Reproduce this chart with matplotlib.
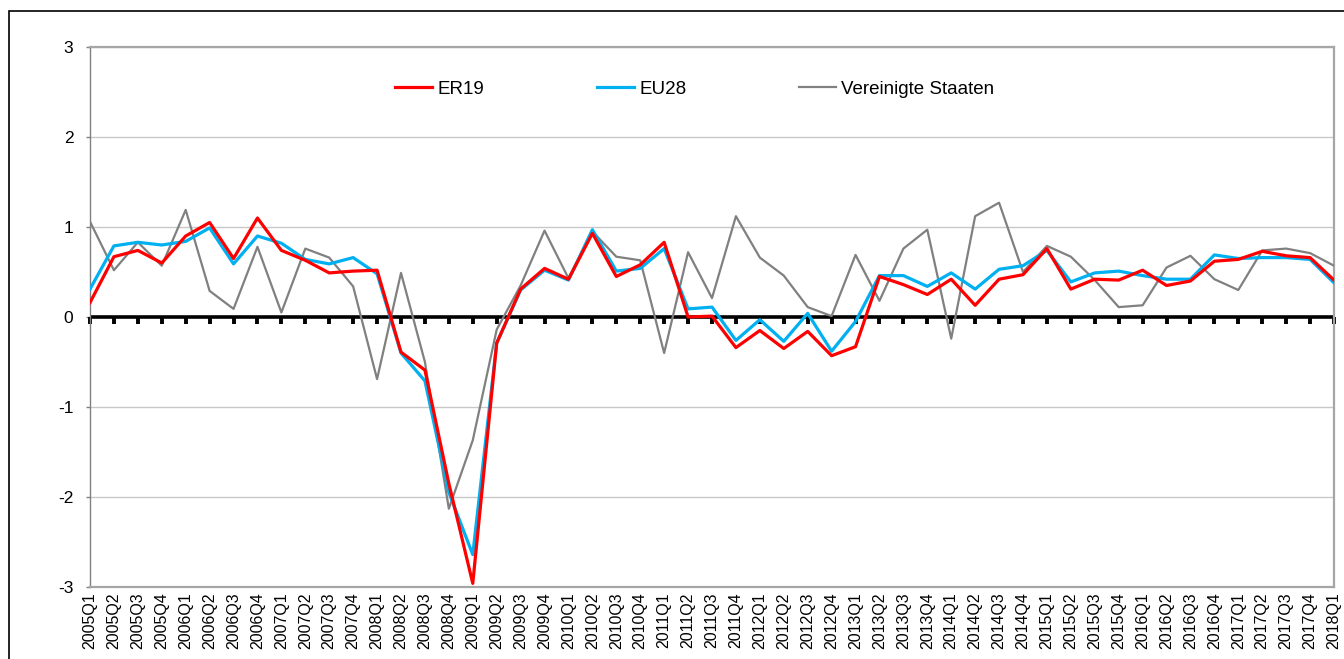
import matplotlib
matplotlib.use("Agg")
import matplotlib.pyplot as plt
from matplotlib.patches import Rectangle
from matplotlib.markers import TICKDOWN
import numpy as np

plt.rcParams['font.family'] = ['Liberation Sans', 'DejaVu Sans']

quarters = [f"{y}Q{q}" for y in range(2005, 2019) for q in range(1, 5)][:53]

er19 = [0.16, 0.67, 0.74, 0.60, 0.90, 1.05, 0.65, 1.10, 0.74, 0.63, 0.49, 0.51, 0.52,
        -0.39, -0.59, -1.85, -2.96, -0.29, 0.31, 0.54, 0.42, 0.93, 0.45, 0.58, 0.83,
        0.00, 0.01, -0.34, -0.15, -0.35, -0.16, -0.43, -0.33, 0.45, 0.36, 0.25, 0.42,
        0.13, 0.42, 0.47, 0.76, 0.31, 0.42, 0.41, 0.52, 0.35, 0.40, 0.62, 0.64, 0.73,
        0.68, 0.66, 0.41]

eu28 = [0.31, 0.79, 0.83, 0.80, 0.84, 0.99, 0.59, 0.90, 0.82, 0.64, 0.59, 0.66, 0.48,
        -0.40, -0.71, -1.95, -2.64, -0.29, 0.30, 0.52, 0.41, 0.97, 0.51, 0.54, 0.76,
        0.09, 0.11, -0.26, -0.03, -0.27, 0.04, -0.38, -0.05, 0.46, 0.46, 0.34, 0.49,
        0.31, 0.53, 0.57, 0.74, 0.39, 0.49, 0.51, 0.46, 0.42, 0.42, 0.69, 0.65, 0.66,
        0.66, 0.64, 0.38]

usa = [1.06, 0.52, 0.83, 0.57, 1.19, 0.29, 0.09, 0.78, 0.05, 0.76, 0.66, 0.34, -0.69,
       0.49, -0.50, -2.13, -1.37, -0.14, 0.35, 0.96, 0.43, 0.95, 0.67, 0.63, -0.40,
       0.72, 0.21, 1.12, 0.66, 0.46, 0.11, 0.01, 0.69, 0.18, 0.76, 0.97, -0.24,
       1.12, 1.27, 0.50, 0.79, 0.67, 0.41, 0.11, 0.13, 0.55, 0.68, 0.42, 0.30, 0.74,
       0.76, 0.71, 0.57]

series_names = ["ER19", "EU28", "Vereinigte Staaten"]
yticks = [-3, -2, -1, 0, 1, 2, 3]

W, H = 1344, 659
fig = plt.figure(figsize=(W / 100, H / 100), dpi=100)
ax = fig.add_axes([90 / W, 1 - 587 / H, (1334 - 90) / W, (587 - 47) / H])

x = np.arange(len(quarters))

# grid
for yv in yticks:
    if yv != 0:
        ax.axhline(yv, color='#C8C8C8', lw=1.0, zorder=1)

# zero axis with tick marks
ax.axhline(0, color='black', lw=2.6, zorder=2)
ax.plot(x, np.zeros(len(x)), linestyle='none', marker=TICKDOWN, markersize=5,
        markeredgewidth=2.8, color='black', zorder=2, clip_on=False)

ax.plot(x, usa, color='#808080', lw=1.6, label=series_names[2], zorder=3)
ax.plot(x, eu28, color='#00B0F0', lw=2.3, label=series_names[1], zorder=4)
ax.plot(x, er19, color='#FF0000', lw=2.3, label=series_names[0], zorder=4)

ax.set_xlim(0, len(quarters) - 1)
ax.set_ylim(-3, 3)
ax.set_yticks(yticks)
ax.set_yticklabels([str(v) for v in yticks], fontsize=12.5)
ax.tick_params(axis='y', direction='out', length=3, color='#808080', width=1, pad=9)

ax.set_xticks(x)
ax.set_xticklabels(quarters, rotation=90, fontsize=11.5)
ax.tick_params(axis='x', length=0, pad=4)

for s in ['top', 'right', 'bottom']:
    ax.spines[s].set_color('#A6A6A6')
    ax.spines[s].set_linewidth(1.6)
ax.spines['left'].set_color('#808080')
ax.spines['left'].set_linewidth(1.0)

handles, labels = ax.get_legend_handles_labels()
order = [2, 1, 0]
leg = ax.legend([handles[i] for i in order], [labels[i] for i in order],
                loc='center', bbox_to_anchor=(0.486, 0.922), ncol=3, frameon=False,
                fontsize=13.5, handlelength=2.0, handletextpad=0.27, columnspacing=6.0)

# outer frame
fig.add_artist(Rectangle((9 / W, -0.1), 1.2, 1 - 11 / H + 0.1, transform=fig.transFigure,
                         fill=False, edgecolor='black', lw=1.2))

fig.savefig("out.png", dpi=100)
